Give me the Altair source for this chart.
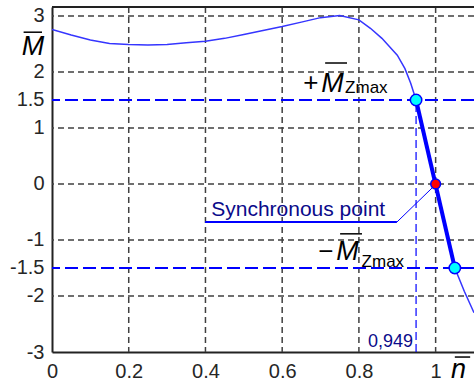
import altair as alt
import pandas as pd

# ---- data ----
curve_x = [0, 0.05, 0.1, 0.15, 0.2, 0.25, 0.3, 0.35, 0.4, 0.45, 0.5, 0.55, 0.6, 0.65,
           0.7, 0.75, 0.8, 0.83, 0.86, 0.88, 0.9, 0.92, 0.935, 0.949, 0.975, 1.0,
           1.025, 1.05, 1.075, 1.1]
curve_y = [2.76, 2.66, 2.57, 2.51, 2.49, 2.48, 2.49, 2.52, 2.55, 2.60, 2.67, 2.74,
           2.81, 2.89, 2.97, 3.01, 2.93, 2.78, 2.60, 2.45, 2.30, 2.06, 1.80, 1.5,
           0.76, 0.0, -0.76, -1.5, -1.92, -2.3]

seg_x = [0.949, 1.05]          # thick segment between +/- M_Zmax
seg_y = [1.5, -1.5]
sync_x = [1.0]
sync_y = [0.0]
n_mark = 0.949

grid_x = [0.2, 0.4, 0.6, 0.8, 1.0]
grid_y = [3, 2, 1, 0, -1, -2]
limit_y = [1.5, -1.5]
xtick_vals = [0, 0.2, 0.4, 0.6, 0.8, 1]
ytick_vals = [3, 2, 1.5, 1, 0, -1, -1.5, -2, -3]

# annotation leader line for "Synchronous point"
lead_x = [0.399, 0.899]
lead_y = [-0.68, -0.68]
diag_x = [0.899, 0.991]
diag_y = [-0.68, -0.07]

W, H = 422, 345
xs = alt.Scale(domain=[0, 1.1], nice=False, zero=False)
ys = alt.Scale(domain=[-3, 3.16], nice=False, zero=False)
FONT = "Liberation Sans"
NAVY = "#0a0a8a"

xaxis = alt.Axis(values=xtick_vals, labelExpr="datum.value + ''", title=None, grid=False,
                 ticks=False, domain=True, domainColor="#222222", domainWidth=2,
                 labelFont=FONT, labelFontSize=20, labelColor="#262626", labelPadding=9,
                 labelFlush=False, labelOverlap=False)
yaxis = alt.Axis(values=ytick_vals, labelExpr="datum.value + ''", title=None, grid=False,
                 ticks=False, domain=True, domainColor="#222222", domainWidth=2,
                 labelFont=FONT, labelFontSize=20, labelColor="#262626", labelPadding=8,
                 labelFlush=False, labelOverlap=False)


def X(f="x"):
    return alt.X(f"{f}:Q", scale=xs, axis=xaxis)


def Y(f="y"):
    return alt.Y(f"{f}:Q", scale=ys, axis=yaxis)


gv = alt.Chart(pd.DataFrame({"x": grid_x})).mark_rule(
    color="#404040", strokeDash=[6, 4], strokeWidth=1.5).encode(x=X())
gh = alt.Chart(pd.DataFrame({"y": grid_y})).mark_rule(
    color="#404040", strokeDash=[6, 4], strokeWidth=1.5).encode(y=Y())
lim = alt.Chart(pd.DataFrame({"y": limit_y})).mark_rule(
    color="#0000ff", strokeDash=[13, 5], strokeWidth=2).encode(y=Y())
vmark = alt.Chart(pd.DataFrame({"x": [n_mark], "y": [-3], "y2": [1.5]})).mark_rule(
    color="#0000ff", strokeDash=[8, 4], strokeWidth=1.2).encode(x=X(), y=Y(), y2="y2:Q")
top = alt.Chart(pd.DataFrame({"a": [0]})).mark_rule(color="#222222", strokeWidth=2).encode(
    x=alt.value(0), x2=alt.value(W), y=alt.value(0))

curve = alt.Chart(pd.DataFrame({"x": curve_x, "y": curve_y})).mark_line(
    color="#3535ff", strokeWidth=1.5, clip=True).encode(x=X(), y=Y())
seg = alt.Chart(pd.DataFrame({"x": seg_x, "y": seg_y})).mark_line(
    color="#0000ff", strokeWidth=4).encode(x=X(), y=Y())
lead = alt.Chart(pd.DataFrame({"x": lead_x, "y": lead_y})).mark_line(
    color="#0000ff", strokeWidth=2).encode(x=X(), y=Y())
diag = alt.Chart(pd.DataFrame({"x": diag_x, "y": diag_y})).mark_line(
    color="#0000ff", strokeWidth=1).encode(x=X(), y=Y())
ends = alt.Chart(pd.DataFrame({"x": seg_x, "y": seg_y})).mark_point(
    filled=True, fill="#00ffff", stroke="#0000ff", strokeWidth=1.5, size=130, opacity=1).encode(
    x=X(), y=Y())
sync = alt.Chart(pd.DataFrame({"x": sync_x, "y": sync_y})).mark_point(
    filled=True, fill="#ff0000", stroke="#0000ff", strokeWidth=1.5, size=95, opacity=1).encode(
    x=X(), y=Y())


def txt(x, y, s, size, color="black", italic=False, align="left", baseline="alphabetic"):
    df = pd.DataFrame({"x": [x], "y": [y], "t": [s]})
    return alt.Chart(df).mark_text(
        font=FONT, fontSize=size, color=color, fontStyle="italic" if italic else "normal",
        align=align, baseline=baseline).encode(x=X(), y=Y(), text="t:N")


def over(x1, x2, y, w=1.5):
    df = pd.DataFrame({"x": [x1], "x2": [x2], "y": [y]})
    return alt.Chart(df).mark_rule(color="black", strokeWidth=w).encode(
        x=X(), x2="x2:Q", y=Y())


texts = [
    txt(0.415, -0.57, "Synchronous point", 21, NAVY),
    txt(0.941, -2.91, "0,949", 18, NAVY, align="right"),
    # y-axis title M-bar
    txt(-0.079, 2.30, "M", 27, italic=True), over(-0.074, -0.026, 2.71),
    # x-axis title n-bar
    txt(1.040, -3.46, "n", 27, italic=True), over(1.050, 1.090, -3.09),
    # +M_Zmax
    txt(0.675, 1.66, "+", 26, align="center"),
    txt(0.702, 1.643, "M", 27, italic=True), over(0.712, 0.769, 2.16),
    txt(0.764, 1.625, "Zmax", 17),
    # -M_Zmax
    txt(0.714, -1.36, "\u2212", 26, align="center"),
    txt(0.741, -1.357, "M", 27, italic=True), over(0.751, 0.808, -0.89),
    txt(0.807, -1.48, "Zmax", 17),
]

chart = alt.layer(gv, gh, lim, vmark, top, curve, seg, lead, diag, ends, sync, *texts).properties(
    width=W, height=H,
    padding={"left": 52, "top": 7, "right": 0, "bottom": 33},
    autosize=alt.AutoSizeParams(type="none"),
    background="white",
).configure_view(stroke=None)

chart.save("out.html", embed_options={"renderer": "svg", "actions": False})
